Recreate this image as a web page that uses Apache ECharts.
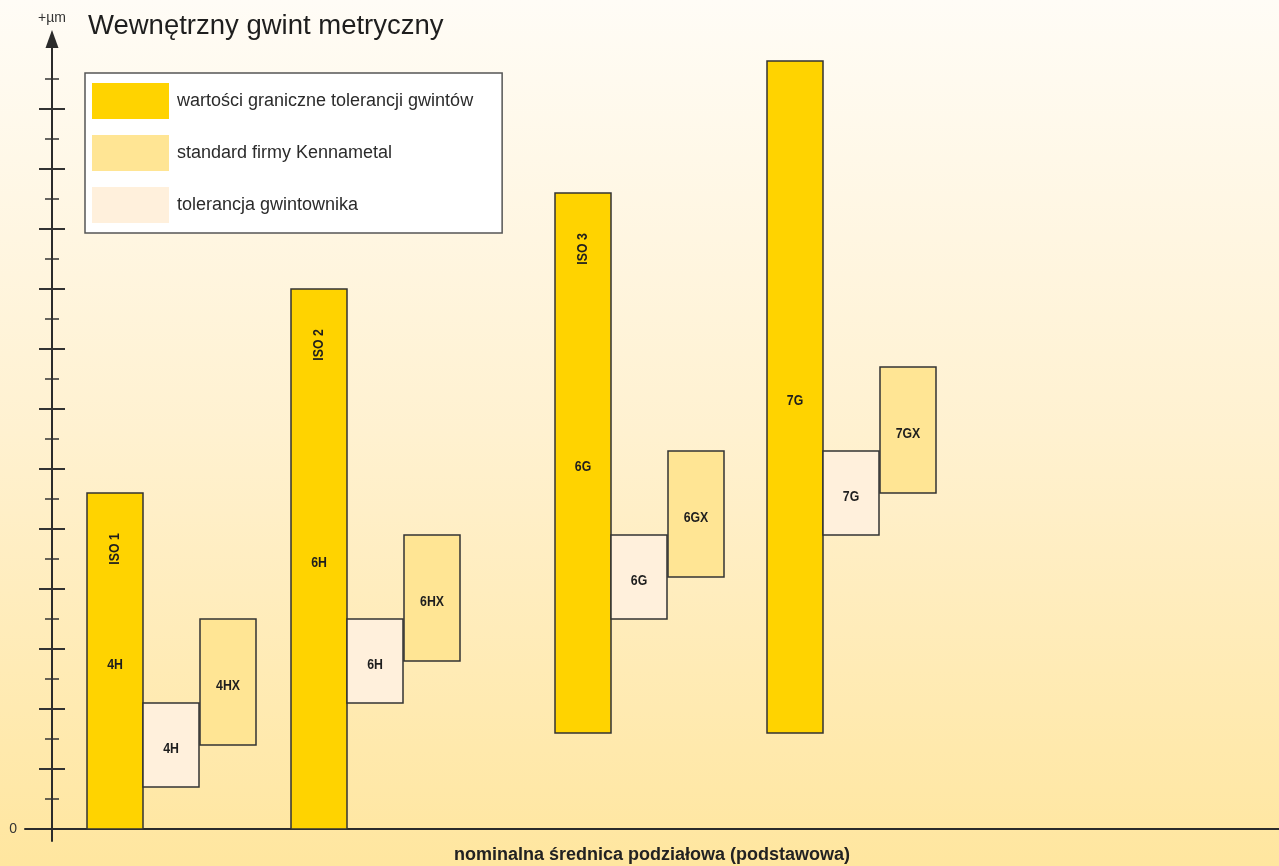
<!DOCTYPE html>
<html><head><meta charset="utf-8">
<script src="https://cdn.jsdelivr.net/npm/echarts@6/dist/echarts.min.js"></script>
<style>html,body{margin:0;padding:0;}#c{width:1279px;height:866px;}</style>
</head><body><div id="c"></div>
<script>
const titleText = 'Wewnętrzny gwint metryczny';
const yUnit = '+µm';
const xName = 'nominalna średnica podziałowa (podstawowa)';
const seriesNames = ['wartości graniczne tolerancji gwintów', 'standard firmy Kennametal', 'tolerancja gwintownika'];
const barWidthX = 56;
// thread tolerance limits (yellow)
const limitX = [35, 239, 503, 715];
const limitLow = [0, 0, 3.2, 3.2];
const limitHigh = [11.2, 18.0, 21.2, 25.6];
const limitLabels = ['4H', '6H', '6G', '7G'];
const isoLabels = ['ISO 1', 'ISO 2', 'ISO 3', ''];
// tap tolerance (pale)
const tapX = [91, 295, 559, 771];
const tapLow = [1.4, 4.2, 7.0, 9.8];
const tapHigh = [4.2, 7.0, 9.8, 12.6];
const tapLabels = ['4H', '6H', '6G', '7G'];
// Kennametal standard
const kennX = [148, 352, 616, 828];
const kennLow = [2.8, 5.6, 8.4, 11.2];
const kennHigh = [7.0, 9.8, 12.6, 15.4];
const kennLabels = ['4HX', '6HX', '6GX', '7GX'];
// y axis ticks
const majorTicks = [2, 4, 6, 8, 10, 12, 14, 16, 18, 20, 22, 24];
const minorTicks = [1, 3, 5, 7, 9, 11, 13, 15, 17, 19, 21, 23, 25];
const yTickLabels = [0];

const sans = 'Liberation Sans, Arial, sans-serif';

function labelEl(text, x, y, rot) {
  return {
    type: 'text', x: x, y: y, rotation: rot || 0, scaleX: 0.82,
    style: { text: text, fill: '#1e1e1e', fontSize: 15, fontWeight: 'bold', fontFamily: sans, align: 'center', verticalAlign: 'middle' }
  };
}

function makeRender(labels, iso) {
  return function (params, api) {
    const i = params.dataIndex;
    const x0 = api.value(0), x1 = api.value(1), lo = api.value(2), hi = api.value(3);
    const p0 = api.coord([x0, hi]);
    const p1 = api.coord([x1, lo]);
    const w = p1[0] - p0[0], h = p1[1] - p0[1];
    const children = [{
      type: 'rect',
      shape: { x: p0[0], y: p0[1], width: w, height: h },
      style: { fill: api.visual('color'), stroke: '#333', lineWidth: 1.5 }
    }, labelEl(labels[i], p0[0] + w / 2, p0[1] + h / 2 + 4)];
    if (iso && iso[i]) {
      children.push(labelEl(iso[i], p0[0] + w / 2, p0[1] + 56, Math.PI / 2));
    }
    return { type: 'group', children: children };
  };
}

function rows(xs, lo, hi) {
  return xs.map((x, i) => [x, x + barWidthX, lo[i], hi[i]]);
}

const yMin = -0.4, yMax = 26.33;
function yAxisCfg(extra) {
  return Object.assign({
    type: 'value', min: yMin, max: yMax, position: 'left', offset: -27,
    axisLine: { show: false, onZero: false },
    splitLine: { show: false },
    axisLabel: { show: false },
    axisTick: { show: false }
  }, extra);
}

const chart = echarts.init(document.getElementById('c'));
chart.setOption({
  backgroundColor: {
    type: 'linear', x: 0, y: 0, x2: 0, y2: 1,
    colorStops: [{ offset: 0, color: '#FFFCF6' }, { offset: 0.5, color: '#FFF1D0' }, { offset: 1, color: '#FFE69F' }]
  },
  animation: false,
  title: {
    text: titleText, left: 83, top: 7,
    textStyle: { fontSize: 27.5, fontWeight: 'normal', color: '#1e1e1e', fontFamily: sans }
  },
  legend: {
    orient: 'vertical', left: 85, top: 73,
    padding: [10, 29, 10, 7],
    itemWidth: 77, itemHeight: 36, itemGap: 16,
    icon: 'rect', selectedMode: false,
    backgroundColor: '#fff', borderColor: '#555', borderWidth: 1.5,
    textStyle: { fontSize: 18, color: '#2b2b2b', fontFamily: sans, padding: [0, 0, 0, 3] },
    data: seriesNames
  },
  grid: { left: 25, right: 0, top: 39, bottom: 25, containLabel: false, outerBoundsMode: 'none' },
  xAxis: {
    type: 'value', min: -27, max: 1227,
    axisLine: { show: true, onZero: true, lineStyle: { color: '#2b2b2b', width: 2 } },
    axisTick: { show: false }, axisLabel: { show: false }, splitLine: { show: false },
    name: xName, nameLocation: 'middle', nameGap: 5,
    nameTextStyle: { fontSize: 18, fontWeight: 'bold', color: '#222', fontFamily: sans }
  },
  yAxis: [
    yAxisCfg({
      axisLine: { show: true, onZero: false, symbol: ['none', 'triangle'], symbolSize: [13, 18], lineStyle: { color: '#2b2b2b', width: 2 } },
      axisTick: { show: true, inside: false, length: 13, customValues: majorTicks, lineStyle: { color: '#333', width: 2 } },
      axisLabel: { show: true, customValues: yTickLabels, margin: 35, fontSize: 14, color: '#333', fontFamily: sans },
      name: yUnit, nameLocation: 'end', nameGap: 14,
      nameTextStyle: { fontSize: 14, color: '#333', fontFamily: sans }
    }),
    yAxisCfg({ axisTick: { show: true, inside: true, length: 13, customValues: majorTicks, lineStyle: { color: '#333', width: 2 } } }),
    yAxisCfg({ axisTick: { show: true, inside: false, length: 7, customValues: minorTicks, lineStyle: { color: '#333', width: 1.5 } } }),
    yAxisCfg({ axisTick: { show: true, inside: true, length: 7, customValues: minorTicks, lineStyle: { color: '#333', width: 1.5 } } })
  ],
  series: [
    {
      name: seriesNames[0], type: 'custom', renderItem: makeRender(limitLabels, isoLabels),
      itemStyle: { color: '#FFD300' }, encode: { x: [0, 1], y: [2, 3] },
      data: rows(limitX, limitLow, limitHigh)
    },
    {
      name: seriesNames[2], type: 'custom', renderItem: makeRender(tapLabels, null),
      itemStyle: { color: '#FFF0DC' }, encode: { x: [0, 1], y: [2, 3] },
      data: rows(tapX, tapLow, tapHigh)
    },
    {
      name: seriesNames[1], type: 'custom', renderItem: makeRender(kennLabels, null),
      itemStyle: { color: '#FFE594' }, encode: { x: [0, 1], y: [2, 3] },
      data: rows(kennX, kennLow, kennHigh)
    }
  ]
});
</script>
</body></html>
